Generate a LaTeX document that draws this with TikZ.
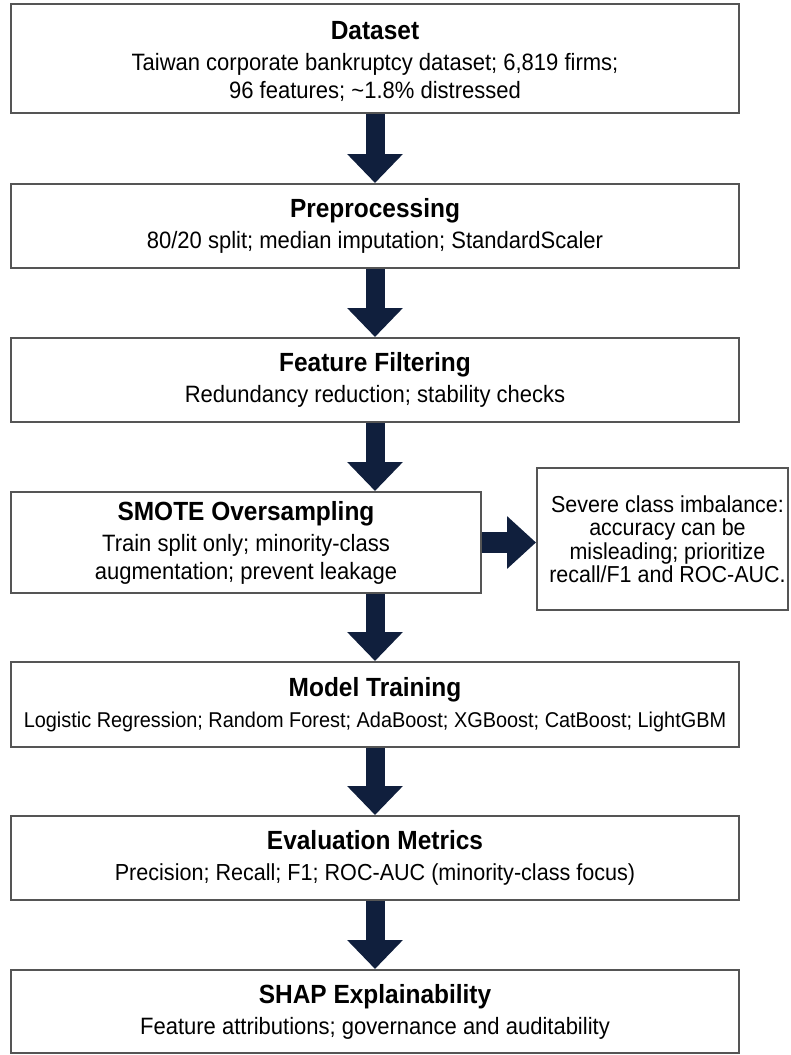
\documentclass[tikz,border=0pt]{standalone}
\usepackage{fontspec}
\setmainfont[FakeStretch=0.93]{Liberation Sans}
\usetikzlibrary{arrows.meta,calc}
\definecolor{navy}{RGB}{16,31,61}
\definecolor{framegray}{RGB}{85,85,85}
\newcommand\boxtitle[1]{{\fontsize{26.3}{28}\selectfont\bfseries #1}}
\begin{document}
\begin{tikzpicture}[x=1pt,y=-1pt,
  box/.style={draw=framegray, line width=2pt, fill=white, align=center, inner sep=0pt,
    font=\fontsize{23.66}{28}\selectfont},
  mainbox/.style={box, minimum width=728pt},
  flow/.style={draw=navy, line width=19pt, -{Triangle[width=54pt,length=29pt]}},
]
\useasboundingbox (0,0) rectangle (790,1055);
\fill[white] (0,0) rectangle (790,1055);

\node[mainbox, minimum height=109pt] (ds) at (375,58.5) {};
\node[align=center, inner sep=0pt, font=\fontsize{23.66}{28}\selectfont] (dstext) at ([yshift=-3pt]ds.center)
  {\boxtitle{Dataset}\\[3.5pt]Taiwan corporate bankruptcy dataset; 6,819 firms;\\96 features; \textasciitilde1.8\% distressed};
\node[mainbox, minimum height=84pt] (pp) at (375,226)
  {\boxtitle{Preprocessing}\\[3pt]80/20 split; median imputation; StandardScaler};
\node[mainbox, minimum height=84pt] (ff) at (375,380)
  {\boxtitle{Feature Filtering}\\[3pt]Redundancy reduction; stability checks};
\node[box, minimum width=470pt, minimum height=101pt] (sm) at (246,542.5)
  {\boxtitle{SMOTE Oversampling}\\[3pt]Train split only; minority-class\\augmentation; prevent leakage};
\node[box, minimum width=251pt, minimum height=142pt] (side) at (662.5,539) {};
\node[align=center, inner sep=0pt, font=\fontsize{23.1}{23.5}\selectfont] (sidetext) at ([xshift=5pt]side.center)
  {Severe class imbalance:\\accuracy can be\\misleading; prioritize\\recall/F1 and ROC-AUC.};
\node[mainbox, minimum height=85pt] (mt) at (375,704.5)
  {\boxtitle{Model Training}\\[3pt]{\fontsize{21.4}{28}\selectfont Logistic Regression; Random Forest; AdaBoost; XGBoost; CatBoost; LightGBM}};
\node[mainbox, minimum height=84pt] (em) at (375,858)
  {\boxtitle{Evaluation Metrics}\\[3pt]{\fontsize{23.2}{28}\selectfont Precision; Recall; F1; ROC-AUC (minority-class focus)}};
\node[mainbox, minimum height=83pt] (sh) at (375,1011.5)
  {\boxtitle{SHAP Explainability}\\[3pt]Feature attributions; governance and auditability};

\draw[flow] (ds.south) -- (pp.north);
\draw[flow] (pp.south) -- (ff.north);
\draw[flow] (ff.south) -- (ff.south |- sm.north);
\draw[flow] (mt.north |- sm.south) -- (mt.north);
\draw[flow] (mt.south) -- (em.north);
\draw[flow] (em.south) -- (sh.north);
\draw[flow, line width=21pt, -{Triangle[width=51pt,length=29pt]}] (sm.east) -- (sm.east -| side.west);
\end{tikzpicture}
\end{document}
